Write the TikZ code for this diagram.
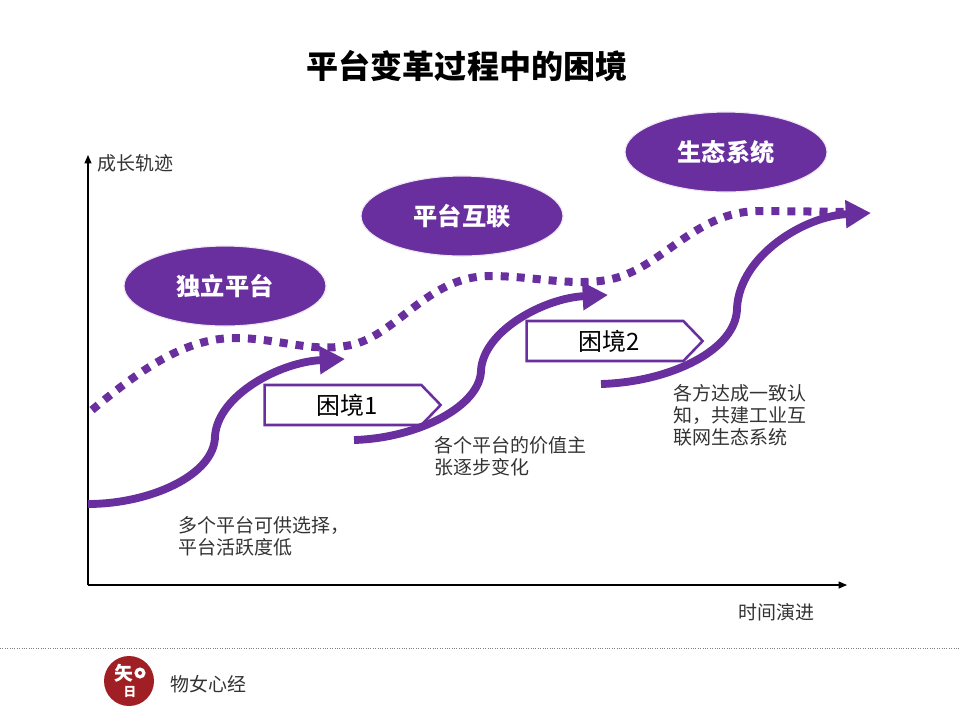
\documentclass[tikz,border=0pt]{standalone}
\usepackage{fontspec}
\setmainfont{Noto Sans CJK SC}
\usetikzlibrary{shapes.geometric, shapes.symbols, arrows.meta, positioning}
\definecolor{ptpurple}{HTML}{6A2F9F}
\definecolor{logored}{HTML}{A01F24}
\definecolor{capgray}{HTML}{333333}
\tikzset{
        stage/.style={ellipse, fill=ptpurple, draw=ptpurple!12, line width=0.8pt, inner sep=0pt,
                minimum width=50.5mm, minimum height=20mm, text=white, font=\fontsize{17.2}{17.2}\selectfont\bfseries},
        plight/.style={signal, signal to=east, signal pointer angle=92, draw=ptpurple, line width=1.8pt, fill=white,
                inner sep=0pt, minimum width=44mm, minimum height=10mm, text=black, font=\fontsize{17}{17}\selectfont},
        caption/.style={anchor=north west, align=left, inner sep=0pt, text=capgray, font=\fontsize{13.5}{15.6}\selectfont},
        axislabel/.style={inner sep=0pt, text=capgray, font=\fontsize{13.5}{14}\selectfont},
        axisline/.style={line width=0.8pt, -{Triangle[length=6pt,width=5pt]}},
        growth/.style={draw=ptpurple, line width=5.6pt, -{Triangle[length=18pt,width=19pt,fill=ptpurple]}},
        trend/.style={draw=ptpurple, line width=5.7pt, dash pattern=on 5.7pt off 5.7pt},
        logoglyph/.style={inner sep=0pt, text=white, font=\bfseries},
}
\begin{document}
\begin{tikzpicture}[x=0.25mm, y=-0.25mm]
        \useasboundingbox (0, 0) rectangle (960, 720);
        \node[font=\fontsize{22.8}{23}\selectfont\bfseries, inner sep=0pt] (Title) at (467, 66) {平台变革过程中的困境};

        \coordinate (Origin) at (88, 585);
        \coordinate (Ytop) at (88, 155);
        \coordinate (Xend) at (847, 585);
        \draw[axisline] (Origin) -- (Ytop);
        \draw[axisline] (Origin) -- (Xend);
        \node[axislabel, anchor=west] (Ylab) at (97, 163) {成长轨迹};
        \node[axislabel, anchor=west] (Xlab) at (738, 612) {时间演进};

        \node[stage] (E1) at (225, 286) {独立平台};
        \node[stage] (E2) at (462, 216) {平台互联};
        \node[stage] (E3) at (726, 152) {生态系统};

        \node[plight] (P1) at (343, 405) {\hspace*{5.7pt}困境1};
        \node[plight] (P2) at (605, 341) {\hspace*{5.7pt}困境2};

        \coordinate (T0) at (92, 410);
        \coordinate (T1) at (235, 338);
        \coordinate (T2) at (345, 346);
        \coordinate (T3) at (490, 276);
        \coordinate (T4) at (600, 281);
        \coordinate (T5) at (760, 211);
        \coordinate (T6) at (860, 212);
        \draw[trend] (T0) .. controls (140, 370) and (185, 338) .. (T1)
                .. controls (275, 338) and (310, 352) .. (T2)
                .. controls (395, 340) and (425, 276) .. (T3)
                .. controls (530, 276) and (565, 285) .. (T4)
                .. controls (660, 275) and (690, 211) .. (T5)
                -- (T6);

        \coordinate (Ga) at (88, 504);
        \coordinate (Gb) at (215, 436);
        \coordinate (Gc) at (345, 359);
        \draw[growth] (Ga) .. controls (150, 504) and (215, 475) .. (Gb)
                .. controls (218, 395) and (280, 362) .. (Gc);
        \coordinate (Ha) at (354, 440);
        \coordinate (Hb) at (481, 370);
        \coordinate (Hc) at (608, 295);
        \draw[growth] (Ha) .. controls (420, 438) and (481, 405) .. (Hb)
                .. controls (484, 330) and (545, 298) .. (Hc);
        \coordinate (Ka) at (601, 384);
        \coordinate (Kb) at (737, 308);
        \coordinate (Kc) at (871, 213);
        \draw[growth] (Ka) .. controls (670, 382) and (737, 350) .. (Kb)
                .. controls (740, 255) and (805, 216) .. (Kc);

        \node[caption] (C1) at (178, 516) {多个平台可供选择，\\平台活跃度低};
        \node[caption] (C2) at (434, 436) {各个平台的价值主\\张逐步变化};
        \node[caption] (C3) at (673, 384) {各方达成一致认\\知，共建工业互\\联网生态系统};

        \coordinate (Fa) at (0, 648);
        \coordinate (Fb) at (960, 648);
        \draw[gray, line width=0.7pt, densely dotted] (Fa) -- (Fb);
        \node[circle, fill=logored, minimum size=12.5mm, inner sep=0pt] (Logo) at (129, 681) {};
        \node[logoglyph, font=\fontsize{13.5}{14}\selectfont\bfseries] (LogoA) at (124, 673) {矢};
        \node[logoglyph, font=\fontsize{9}{9}\selectfont\bfseries] (LogoB) at (130, 692) {日};
        \node[circle, fill=white, minimum size=2.8mm, inner sep=0pt] (LogoC) at (140, 673) {};
        \node[circle, fill=logored, minimum size=1mm, inner sep=0pt] (LogoD) at (140, 673) {};
        \node[axislabel, anchor=west] (Foot) at (170, 684) {物女心经};
\end{tikzpicture}
\end{document}
